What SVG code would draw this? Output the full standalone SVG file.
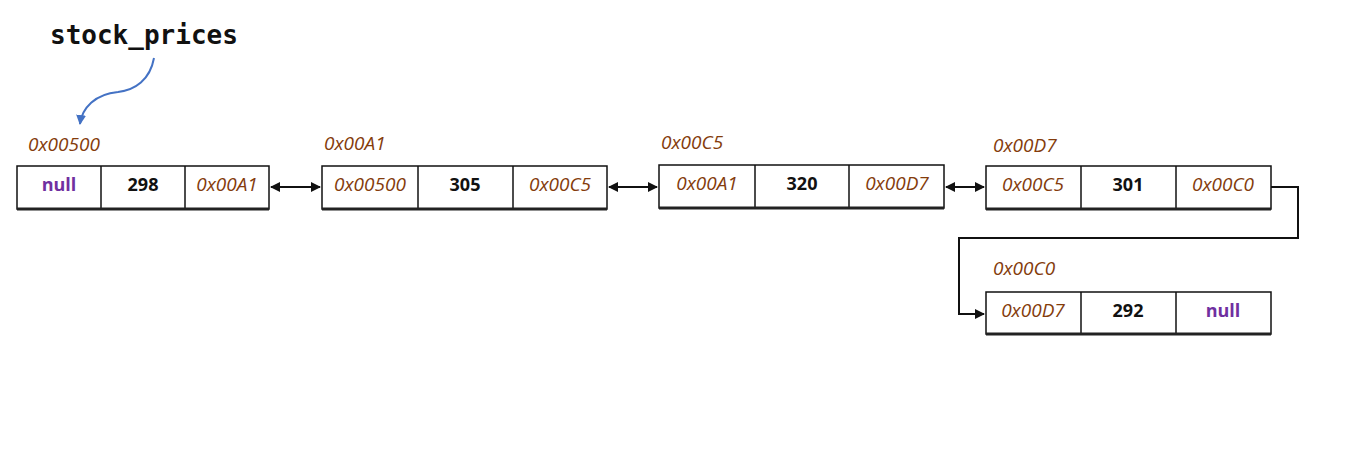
<svg xmlns="http://www.w3.org/2000/svg" width="1368" height="459" viewBox="0 0 1368 459">
<style>
.box{fill:#fff;stroke:#111;stroke-width:1.5}
.div{stroke:#111;stroke-width:1.5}
.bot{stroke:#222;stroke-width:3}
.addr{font-family:"Open Sans",sans-serif;font-style:italic;font-size:19px;fill:#843c0c}
.val{font-family:"Open Sans",sans-serif;font-weight:bold;font-size:18px;fill:#111}
.nul{font-family:"Open Sans",sans-serif;font-weight:bold;font-size:18px;fill:#7030a0}
.conn{fill:none;stroke:#111;stroke-width:2}
</style>
<defs>
<marker id="ah" viewBox="0 0 10 10" refX="9" refY="5" markerWidth="5" markerHeight="5" orient="auto-start-reverse"><path d="M0,0 L10,5 L0,10 z" fill="#111"/></marker>
<marker id="bh" viewBox="0 0 10 10" refX="9" refY="5" markerWidth="5" markerHeight="5" orient="auto"><path d="M0,0 L10,5 L0,10 z" fill="#4472c4"/></marker>
</defs>
<text x="50" y="44" font-family="'DejaVu Sans Mono',monospace" font-weight="bold" font-size="26" fill="#111">stock_prices</text>
<g id="connectors">
<path d="M154,58 C150,80 135,90 118,92 C95,94 82,108 80,124" fill="none" stroke="#4472c4" stroke-width="2" marker-end="url(#bh)"/>
<line class="conn" x1="271" y1="187" x2="320" y2="187" marker-start="url(#ah)" marker-end="url(#ah)"/>
<line class="conn" x1="609" y1="187" x2="657" y2="187" marker-start="url(#ah)" marker-end="url(#ah)"/>
<line class="conn" x1="946" y1="187" x2="984" y2="187" marker-start="url(#ah)" marker-end="url(#ah)"/>
<path class="conn" d="M1271,187 H1298 V238 H959 V314 H984" marker-end="url(#ah)"/>
</g>
<g id="node1">
<text class="addr" x="28" y="151">0x00500</text>
<rect class="box" x="17" y="166" width="252" height="43"/>
<line class="div" x1="101" y1="166" x2="101" y2="209"/><line class="div" x1="185" y1="166" x2="185" y2="209"/>
<line class="bot" x1="17" y1="209" x2="269" y2="209"/>
<text class="nul" x="59" y="191" text-anchor="middle">null</text>
<text class="val" x="143" y="191" text-anchor="middle">298</text>
<text class="addr" x="227" y="191" text-anchor="middle">0x00A1</text>
</g>
<g id="node2">
<text class="addr" x="324" y="150">0x00A1</text>
<rect class="box" x="322" y="166" width="285" height="43"/>
<line class="div" x1="418" y1="166" x2="418" y2="209"/><line class="div" x1="513" y1="166" x2="513" y2="209"/>
<line class="bot" x1="322" y1="209" x2="607" y2="209"/>
<text class="addr" x="370" y="191" text-anchor="middle">0x00500</text>
<text class="val" x="465" y="191" text-anchor="middle">305</text>
<text class="addr" x="560" y="191" text-anchor="middle">0x00C5</text>
</g>
<g id="node3">
<text class="addr" x="661" y="149">0x00C5</text>
<rect class="box" x="659" y="165" width="285" height="43"/>
<line class="div" x1="755" y1="165" x2="755" y2="208"/><line class="div" x1="849" y1="165" x2="849" y2="208"/>
<line class="bot" x1="659" y1="208" x2="944" y2="208"/>
<text class="addr" x="707" y="190" text-anchor="middle">0x00A1</text>
<text class="val" x="802" y="190" text-anchor="middle">320</text>
<text class="addr" x="897" y="190" text-anchor="middle">0x00D7</text>
</g>
<g id="node4">
<text class="addr" x="993" y="152">0x00D7</text>
<rect class="box" x="986" y="166" width="285" height="43"/>
<line class="div" x1="1081" y1="166" x2="1081" y2="209"/><line class="div" x1="1176" y1="166" x2="1176" y2="209"/>
<line class="bot" x1="986" y1="209" x2="1271" y2="209"/>
<text class="addr" x="1033" y="191" text-anchor="middle">0x00C5</text>
<text class="val" x="1128" y="191" text-anchor="middle">301</text>
<text class="addr" x="1223" y="191" text-anchor="middle">0x00C0</text>
</g>
<g id="node5">
<text class="addr" x="993" y="275">0x00C0</text>
<rect class="box" x="986" y="292" width="285" height="42"/>
<line class="div" x1="1081" y1="292" x2="1081" y2="334"/><line class="div" x1="1176" y1="292" x2="1176" y2="334"/>
<line class="bot" x1="986" y1="334" x2="1271" y2="334"/>
<text class="addr" x="1033" y="317" text-anchor="middle">0x00D7</text>
<text class="val" x="1128" y="317" text-anchor="middle">292</text>
<text class="nul" x="1223" y="317" text-anchor="middle">null</text>
</g>
</svg>
